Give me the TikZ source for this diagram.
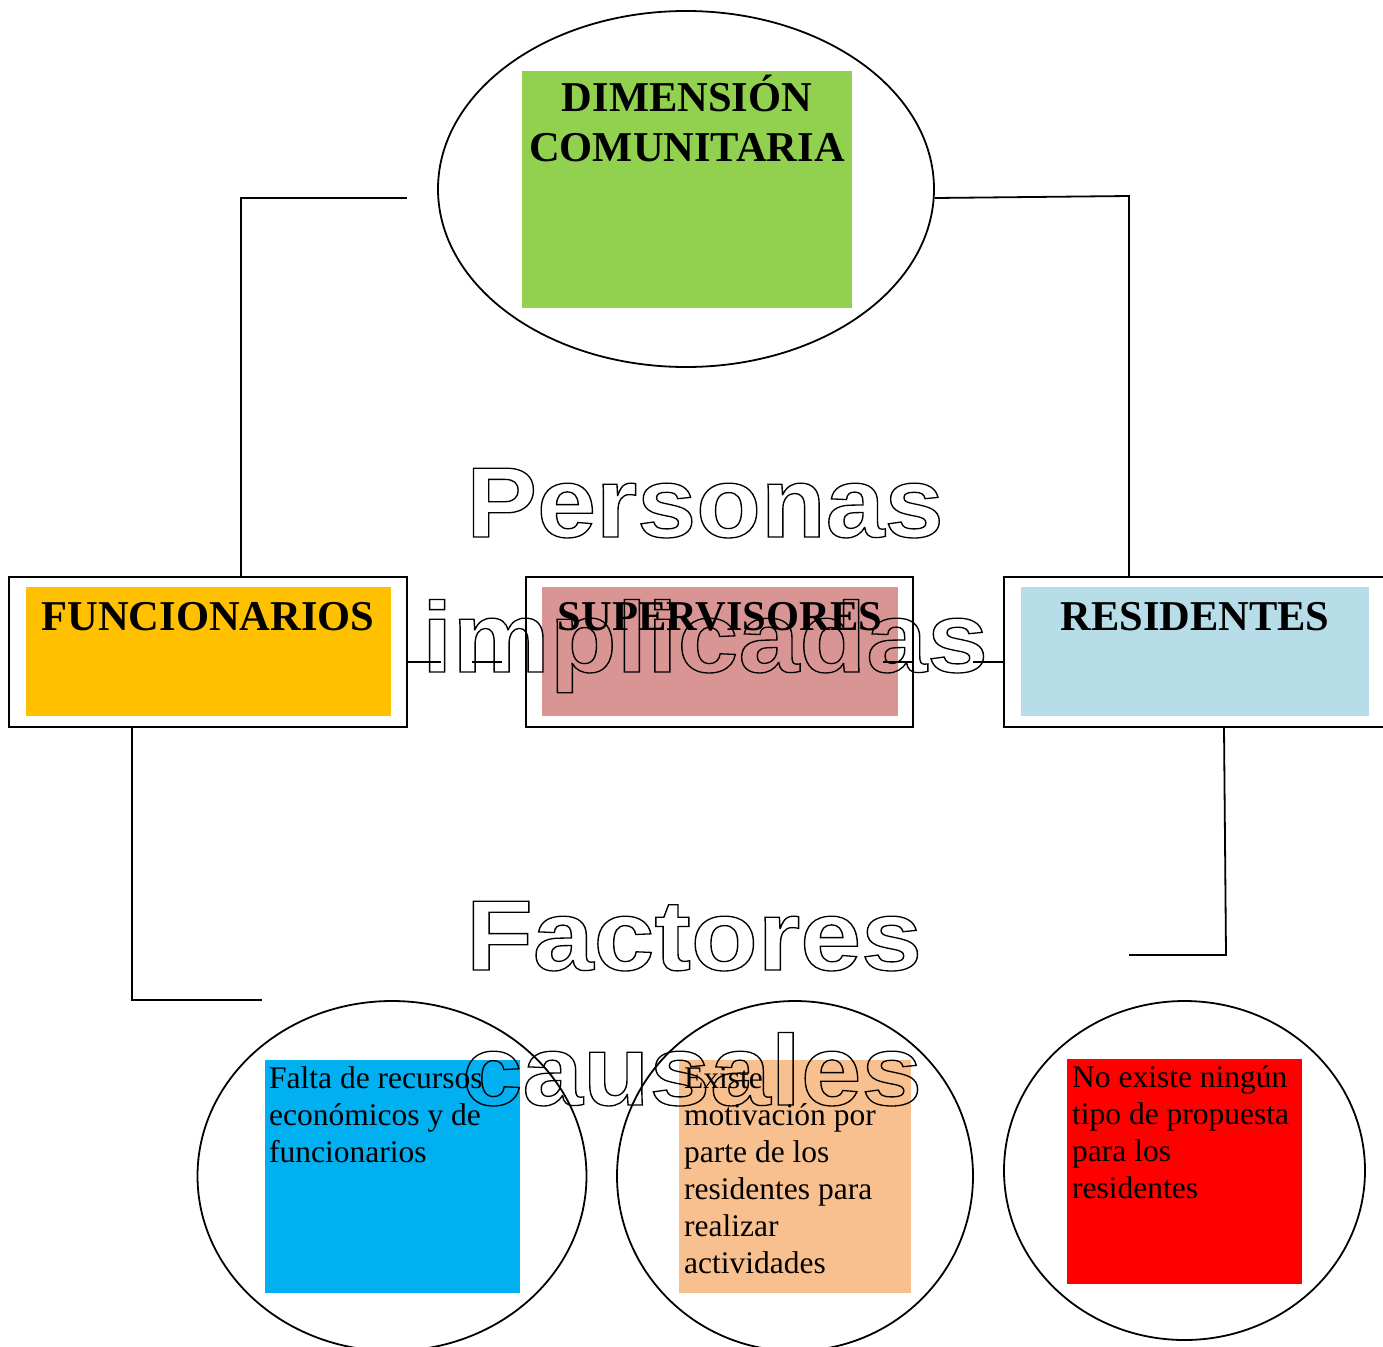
\documentclass[tikz,border=0pt]{standalone}
\usepackage{fontspec}
\setmainfont{Liberation Serif}
\newfontfamily\outfont{Liberation Sans}
\usetikzlibrary{shapes.geometric}
\definecolor{cgreen}{HTML}{92D050}
\definecolor{corange}{HTML}{FFC000}
\definecolor{cpink}{HTML}{D99594}
\definecolor{clblue}{HTML}{B7DDE8}
\definecolor{cblue}{HTML}{00B0F0}
\definecolor{cpeach}{HTML}{F9C08F}
\definecolor{cred}{HTML}{FF0000}
\newcommand\outlinetext[1]{\special{pdf:literal direct 1 Tr 1.3 w}#1\special{pdf:literal direct 0 Tr}}
\tikzset{
  line/.style={line width=1.8pt},
  oval/.style={draw, ellipse, line width=1.8pt, inner sep=0pt},
  outerbox/.style={draw, line width=1.8pt, fill=white, inner sep=0pt, minimum height=150pt},
  fillbox/.style={inner sep=0pt, draw=none},
  title/.style={anchor=base, inner sep=0pt, font=\fontsize{42.5}{50}\selectfont\bfseries, align=center},
  body/.style={anchor=base west, inner sep=0pt, font=\fontsize{31.5}{37}\selectfont, align=left},
  hollow/.style={anchor=base, inner sep=0pt, font=\fontsize{100}{100}\selectfont\outfont\bfseries, transform shape}
}
\begin{document}
\begin{tikzpicture}[x=1pt, y=-1pt]
\useasboundingbox (0,0) rectangle (1383,1346);
% top ellipse
\node[oval, minimum width=496pt, minimum height=356pt] (dim) at (686,189) {};
\node[fillbox, fill=cgreen, minimum width=330pt, minimum height=237pt] (dimf) at (687,189.5) {};
\node[title] (dimt) at (687,161) {DIMENSIÓN\\COMUNITARIA};
% middle boxes
\node[outerbox, minimum width=398pt] (fo) at (208,652) {};
\node[fillbox, fill=corange, minimum width=365pt, minimum height=129pt] (fi) at (208.5,651.5) {};
\node[title] (ft) at (208,630) {FUNCIONARIOS};
\node[outerbox, minimum width=387pt] (so) at (719.5,652) {};
\node[fillbox, fill=cpink, minimum width=356pt, minimum height=129pt] (si) at (720,651.5) {};
\node[title] (st) at (720,630) {SUPERVISORES};
\node[outerbox, minimum width=382pt] (re) at (1195,652) {};
\node[fillbox, fill=clblue, minimum width=348pt, minimum height=129pt] (ri) at (1195,651.5) {};
\node[title] (rt) at (1195,630) {RESIDENTES};
% bottom circles
\node[oval, minimum width=389pt, minimum height=350pt] (c1) at (392,1176) {};
\node[fillbox, fill=cblue, minimum width=255pt, minimum height=233pt] (b1) at (392.5,1176.5) {};
\node[body] (t1) at (269,1162) {Falta de recursos\\económicos y de\\funcionarios};
\node[oval, minimum width=356pt, minimum height=350pt] (c2) at (795,1176) {};
\node[fillbox, fill=cpeach, minimum width=232pt, minimum height=233pt] (b2) at (795,1176.5) {};
\node[body] (t2) at (684,1273) {Existe\\motivación por\\parte de los\\residentes para\\realizar\\actividades};
\node[oval, minimum width=361pt, minimum height=339pt] (c3) at (1184.5,1170.5) {};
\node[fillbox, fill=cred, minimum width=235pt, minimum height=225pt] (b3) at (1184.5,1171.5) {};
\node[body] (t3) at (1072,1198) {No existe ningún\\tipo de propuesta\\para los\\residentes};
% connectors
\coordinate (tl) at (407,198);
\draw[line] (tl) -- (241,198) -- (241,577);
\draw[line] ([yshift=-9pt]dim.east) -- (1129,196) -- (1129,577);
\draw[line] ([yshift=-10pt]fo.east) -- (441,662);
\draw[line] (472,662) -- (502,662);
\draw[line] (883,662) -- ([yshift=-10pt]so.east);
\draw[line] (973,662) -- ([yshift=-10pt]re.west);
\coordinate (bl) at (262,1000);
\draw[line] ([xshift=-76pt]fo.south) -- (132,1000) -- (bl);
\coordinate (br) at (1129,955);
\draw[line] ([xshift=29pt]re.south) -- (1226,955) -- (br);
% hollow titles
\node[hollow, xscale=1.06] (h1) at (705,537) {\outlinetext{Personas}};
\node[hollow, xscale=1.095] (h2) at (705,672) {\outlinetext{implicadas}};
\node[hollow, xscale=1.094] (h3) at (694,970) {\outlinetext{Factores}};
\node[hollow, xscale=1.089] (h4) at (692,1105) {\outlinetext{causales}};
\end{tikzpicture}
\end{document}
